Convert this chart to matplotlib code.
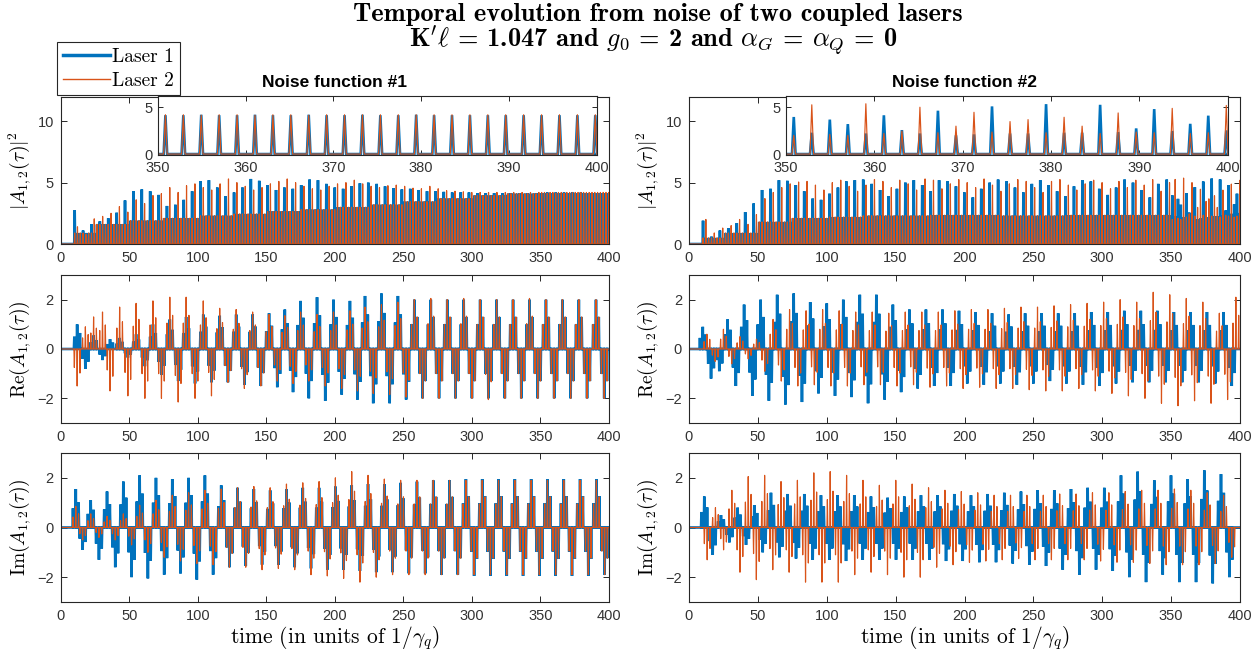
import numpy as np
import matplotlib
matplotlib.use("Agg")
import matplotlib.pyplot as plt
from matplotlib.lines import Line2D

plt.rcParams["mathtext.fontset"] = "cm"
plt.rcParams["font.family"] = ["Liberation Sans", "DejaVu Sans"]

BLUE = "#0072BD"
ORANGE = "#D95319"
AXC = "#262626"
TICKC = "#333333"

W, H = 1260, 655

# ---------------------------------------------------------------- pulse comb
PULSE_PERIOD = 2.04      # time between successive pulses
FIRST_PULSE = 10.2       # first pulse after switch-on
N_PULSES = 192
ZOOM_START = 167         # index of the first pulse inside [350, 400]

# |A|^2 : tall pulse of each 3-pulse cycle (blue on pulse 0, orange on pulse 1)
top1_blue_peak = [2.75, 1.1, 1.6, 1.85, 2.1, 2.55, 3.55, 4.3, 4.45, 4.3,
                  4.0, 3.1, 3.2, 3.6, 4.3, 5.1, 5.2, 4.6, 3.9, 4.2,
                  4.6, 5.3, 5.15, 4.8, 4.4, 4.6, 4.5, 4.8, 5.25, 5.2,
                  4.9, 4.6, 4.5, 4.7, 4.95, 5.0, 4.9, 4.7, 4.55, 4.45,
                  4.5, 4.4, 4.3, 4.3, 4.25, 4.2, 4.2, 4.2, 4.15, 4.15,
                  4.15, 4.15, 4.15, 4.15, 4.15, 4.15]
top1_orange_peak = [1.4, 0.8, 2.05, 2.25, 2.5, 3.05, 2.6, 3.6, 3.3, 3.95,
                    4.1, 4.6, 4.2, 4.75, 4.9, 4.6, 4.4, 4.9, 5.3, 5.0,
                    4.7, 4.4, 4.6, 4.9, 5.1, 5.3, 5.0, 4.7, 4.5, 4.4,
                    4.7, 4.9, 5.0, 5.2, 4.9, 4.7, 4.6, 4.75, 4.8, 4.7,
                    4.55, 4.5, 4.7, 4.5, 4.35, 4.3, 4.25, 4.2, 4.2, 4.2,
                    4.2, 4.2, 4.2, 4.2, 4.2, 4.2]
# level of the remaining pulses, one value per 25 time units
top1_floor = [0.9, 1.6, 1.9, 2.1, 2.3, 2.45, 2.65, 2.8, 3.0, 3.2, 3.45, 3.7, 3.95, 4.1]

top2_blue_peak = [1.9, 0.6, 1.1, 1.3, 1.7, 2.6, 3.3, 4.4, 4.5, 5.2,
                  5.15, 4.8, 4.3, 3.7, 3.6, 4.1, 4.6, 5.1, 5.2, 5.25,
                  4.9, 4.4, 3.9, 4.5, 5.0, 5.2, 4.8, 4.3, 5.2, 5.1,
                  4.7, 4.2, 3.8, 4.5, 5.0, 5.25, 5.1, 4.6, 4.2, 4.9,
                  5.2, 4.8, 4.3, 3.9, 4.7, 5.2, 5.1, 4.5, 4.0, 4.6,
                  5.25, 5.0, 4.4, 3.8, 4.9, 5.25]
top2_orange_peak = [2.0, 0.9, 1.3, 1.5, 2.0, 1.6, 2.4, 3.7, 4.2, 4.6,
                    4.9, 5.05, 5.1, 4.8, 4.4, 5.0, 5.2, 4.7, 4.3, 4.8,
                    5.25, 5.1, 4.6, 5.2, 4.9, 4.4, 5.3, 5.2, 4.5, 4.9,
                    5.25, 5.0, 4.6, 5.3, 4.8, 4.3, 4.9, 5.25, 5.1, 4.6,
                    4.2, 5.1, 5.25, 4.8, 4.4, 4.9, 5.2, 5.0, 4.5, 5.1,
                    4.6, 5.2, 4.8, 5.25, 4.3, 5.0]
top2_floor = [0.5, 0.9, 1.8, 2.1, 2.2, 2.3, 2.3, 2.35, 2.35, 2.3, 2.3, 2.35, 2.35, 2.35]

# individual pulse heights between t = 350 and t = 400
zoom1_blue = [4.15, 4.15, 4.2, 4.15, 4.15, 4.2, 4.15, 4.15, 4.2, 4.15,
              4.15, 4.2, 4.15, 4.15, 4.2, 4.15, 4.15, 4.15, 4.15, 4.15,
              4.15, 4.15, 4.15, 4.15, 4.15]
zoom1_orange = [4.2, 4.2, 4.15, 4.2, 4.2, 4.15, 4.2, 4.2, 4.15, 4.2,
                4.2, 4.2, 4.2, 4.2, 4.2, 4.2, 4.2, 4.2, 4.2, 4.2,
                4.2, 4.2, 4.2, 4.2, 4.2]
zoom2_blue = [3.96, 2.28, 3.68, 3.2, 2.2, 4.14, 2.56, 2.2, 4.63, 2.0,
              2.1, 5.09, 2.2, 2.2, 5.33, 2.28, 2.28, 5.26, 2.35, 2.74,
              4.8, 2.46, 3.23, 4.1, 2.53]
zoom2_orange = [2.0, 5.26, 2.1, 2.0, 5.37, 2.2, 2.46, 5.0, 2.28, 2.98,
                4.46, 2.35, 3.47, 3.68, 2.28, 3.93, 2.98, 2.2, 4.39, 2.35,
                2.28, 4.88, 2.2, 2.28, 5.19]

# ---------------------------------------------------------------- Re / Im bursts
# burst centre times and signed burst extremes
re1_t = [12.0, 18.0, 24.0, 30.5, 36.0, 43.0, 49.0, 55.0, 61.4, 67.3,
         73.5, 79.6, 85.7, 91.5, 98.0, 104.0, 110.0, 116.0, 122.0, 128.0,
         134.0, 140.0, 146.0, 152.0, 158.0, 163.5, 169.5, 175.0, 181.0, 187.0,
         193.0, 199.0, 205.0, 211.0, 216.5, 222.0, 228.0, 234.0, 240.0, 246.0,
         252.0, 258.0, 264.0, 270.0, 276.0, 282.0, 288.0, 294.0, 300.0, 306.0,
         312.0, 318.0, 324.0, 330.0, 336.0, 342.0, 348.0, 354.0, 360.0, 366.0,
         372.0, 378.0, 384.0, 390.5, 396.5]
re1_blue = [1.0, -0.8, 0.55, -0.45, 0.4, 0.45, -0.35, 0.6, -0.7, 1.0,
            -1.05, 1.2, -1.3, 1.3, -1.4, 1.4, -1.35, 1.35, -1.35, 1.4,
            -1.45, 1.4, -1.5, 1.45, -1.55, 1.6, -1.75, 1.95, -2.0, 2.1,
            -2.1, 2.0, -1.85, 1.95, -2.05, 2.15, -2.2, 2.25, -2.2, 2.15,
            -2.05, 2.0, -2.0, 2.0, -2.0, 2.0, -2.0, 2.0, -2.0, 2.0,
            -2.0, 2.0, -2.0, 2.0, -2.0, 2.0, -2.0, 2.0, -2.0, 2.0,
            -2.0, 2.0, -2.0, 2.0, -2.0]
re1_orange = [-1.5, 0.9, 1.3, 1.5, -1.7, 1.7, -1.9, 1.85, -2.0, 1.95,
              -2.0, 2.1, -2.15, 2.1, -2.0, 1.95, -1.9, 1.65, -1.35, 1.6,
              -1.6, 1.5, -1.5, 1.4, -1.3, 1.35, -1.4, 1.5, -1.3, 1.4,
              -1.5, 1.5, -1.6, 1.55, -1.7, 1.7, -1.8, 1.8, -1.85, 1.9,
              -1.95, 2.0, -2.0, 2.05, -2.0, 2.0, -2.0, 2.05, -2.0, 2.0,
              -2.05, 2.0, -2.0, 2.0, -2.0, 2.05, -2.0, 2.0, -2.0, 2.0,
              -2.0, 2.0, -2.0, 2.0, -2.0]

im1_t = [11.0, 16.0, 21.9, 27.9, 33.8, 39.8, 45.7, 51.7, 57.6, 63.6,
         69.5, 75.5, 81.4, 87.4, 93.3, 99.3, 105.2, 111.2, 117.1, 123.1,
         129.0, 135.0, 140.9, 146.9, 152.8, 158.8, 164.7, 170.7, 176.6, 182.6,
         188.5, 194.5, 200.4, 206.4, 212.3, 218.3, 224.2, 230.2, 236.1, 242.1,
         248.0, 254.0, 259.9, 265.9, 271.8, 277.8, 283.7, 289.7, 295.6, 301.6,
         307.5, 313.5, 319.4, 325.4, 331.3, 337.3, 343.2, 349.2, 355.1, 361.1,
         367.0, 373.0, 378.9, 384.9, 390.8, 396.8]
im1_blue = [1.55, -0.9, 1.1, -1.3, 1.45, -1.6, 1.85, -2.0, 2.1, -2.05,
            2.0, -1.9, 1.95, -1.85, 2.0, -2.1, 2.1, -1.9, 1.7, -1.6,
            1.6, -1.55, 1.55, -1.5, 1.5, -1.5, 1.55, -1.6, 1.6, -1.65,
            1.6, -1.7, 1.65, -1.7, 1.7, -1.75, 1.75, -1.8, 1.75, -1.8,
            1.8, -1.85, 1.85, -1.85, 1.9, -1.9, 1.9, -1.9, 1.95, -1.95,
            1.95, -1.95, 1.95, -1.95, 1.95, -1.95, 1.95, -1.95, 1.95, -1.95,
            1.95, -1.95, 1.95, -1.95, 1.95, -1.9]
im1_orange = [0.85, -0.5, 0.55, -0.4, 0.45, -0.5, 0.55, -0.7, 0.9, -1.0,
              1.1, -1.2, 1.3, -1.35, 1.4, -1.45, 1.5, -1.5, 1.55, -1.6,
              1.6, -1.6, 1.65, -1.7, 1.6, -1.65, 1.75, -1.7, 1.8, -1.9,
              1.85, -1.95, 2.0, -2.05, 2.25, -2.2, 2.1, -2.0, 1.95, -1.9,
              1.9, -1.9, 1.9, -1.9, 1.9, -1.9, 1.9, -1.9, 1.9, -1.9,
              1.9, -1.9, 1.9, -1.9, 1.9, -1.9, 1.9, -1.9, 1.9, -1.9,
              1.9, -1.9, 1.9, -1.9, 1.9, -1.9]

re2_blue_t = [10, 16, 22, 28, 34, 40, 46, 52, 58, 64,
              70, 76, 82, 88, 94, 100, 106, 112, 118, 124,
              130, 136, 142, 148, 154, 160, 166, 172, 178, 184,
              190, 196, 202, 208, 214, 220, 226, 232, 238, 244,
              250, 256, 262, 268, 274, 280, 286, 292, 298, 304,
              310, 316, 322, 328, 334, 340, 346, 352, 358, 364,
              370, 376, 382, 388, 394]
re2_blue = [0.9, -1.2, -0.9, 1.2, -1.5, 1.8, -1.9, 2.0, -2.1, 2.2,
            -2.25, 2.25, -2.15, 1.9, -1.8, 1.85, -1.9, 2.0, -1.95, 2.2,
            -2.2, 2.2, -2.05, 1.8, -1.75, 1.6, -1.6, 1.6, -1.5, 1.6,
            -1.5, 1.55, -1.4, 1.5, -1.45, 1.45, -1.4, 1.4, -1.45, 1.45,
            -1.4, 1.45, -1.3, 1.45, -1.4, 1.45, -1.45, 1.5, -1.5, 1.5,
            -1.4, 1.55, -1.35, 1.55, -1.35, 1.55, -1.35, 1.5, -1.35, 1.5,
            -1.35, 1.5, -1.4, 1.5, -1.5]
re2_orange_t = [13, 19, 25, 31, 37, 43, 49, 55, 61, 67,
                73, 79, 85, 91, 97, 103, 109, 115, 121, 127,
                133, 139, 145, 151, 157, 163, 169, 175, 181, 187,
                193, 199, 205, 211, 217, 223, 229, 235, 241, 247,
                253, 259, 265, 271, 277, 283, 289, 295, 301, 307,
                313, 319, 325, 331, 337, 343, 349, 355, 361, 367,
                373, 379, 385, 391, 397]
re2_orange = [0.6, -0.5, 0.8, -0.6, 0.5, -0.4, 0.4, -0.9, 1.2, -1.3,
              1.6, -1.5, 1.55, -1.45, 1.6, -1.5, 1.55, -1.5, 1.5, -1.45,
              1.5, -1.45, 1.45, -1.5, 1.5, -1.45, 1.5, -1.55, 1.5, -1.5,
              1.55, -1.6, 1.6, -1.55, 1.6, -1.6, 1.65, -1.6, 1.7, -1.65,
              1.7, -1.7, 1.75, -1.7, 1.8, -1.6, 1.85, -1.7, 1.9, -1.8,
              2.0, -1.9, 1.9, -2.0, 2.3, -2.2, 2.2, -2.3, 2.05, -2.1,
              1.9, -2.2, 1.45, -2.05, 2.1]

im2_blue_t = [11.1, 17.2, 23.2, 29.3, 35.3, 41.4, 47.4, 53.5, 59.5, 65.6,
              71.6, 77.7, 83.7, 89.8, 95.8, 101.9, 107.9, 114.0, 120.0, 126.1,
              132.1, 138.2, 144.2, 150.3, 156.3, 162.4, 168.4, 174.5, 180.5, 186.6,
              192.6, 198.7, 204.7, 210.8, 216.8, 222.9, 228.9, 235.0, 241.0, 247.1,
              253.1, 259.2, 265.2, 271.3, 277.3, 283.4, 289.4, 295.5, 301.5, 307.6,
              313.6, 319.7, 325.7, 331.8, 337.8, 343.9, 349.9, 356.0, 362.0, 368.1,
              374.1, 380.2, 386.2, 392.3]
im2_blue = [1.25, -1.1, 0.5, -0.6, 0.8, -0.7, 0.9, -1.0, 1.4, -1.2,
            1.35, -1.25, 1.35, -1.3, 1.3, -1.3, 1.3, -1.35, 1.3, -1.3,
            1.25, -1.3, 1.2, -1.3, 1.25, -1.3, 1.3, -1.3, 1.3, -1.35,
            1.35, -1.35, 1.3, -1.4, 1.35, -1.4, 1.4, -1.45, 1.45, -1.5,
            1.5, -1.55, 1.5, -1.7, 1.55, -1.9, 1.6, -1.7, 1.6, -1.75,
            2.1, -2.0, 2.25, -2.2, 1.9, -1.9, 2.1, -2.2, 1.95, -2.2,
            2.3, -2.25, 2.15, -2.0]
im2_orange_t = [13.2, 19.2, 25.1, 31.1, 37.0, 43.0, 48.9, 54.9, 60.8, 66.8,
                72.7, 78.7, 84.6, 90.6, 96.5, 102.5, 108.4, 114.4, 120.3, 126.3,
                132.2, 138.2, 144.1, 150.1, 156.0, 162.0, 167.9, 173.9, 179.8, 185.8,
                191.7, 197.7, 203.6, 209.6, 215.5, 221.5, 227.4, 233.4, 239.3, 245.3,
                251.2, 257.2, 263.1, 269.1, 275.0, 281.0, 286.9, 292.9, 298.8, 304.8,
                310.7, 316.7, 322.6, 328.6, 334.5, 340.5, 346.4, 352.4, 358.3, 364.3,
                370.2, 376.2, 382.1, 388.1, 394.0]
im2_orange = [-1.3, 0.8, -0.9, 1.5, -1.8, 2.05, -2.1, 2.1, -1.7, 1.85,
              -1.8, 1.9, -2.2, 2.2, -2.2, 2.25, -2.2, 2.1, -1.9, 1.9,
              -1.8, 1.7, -1.9, 1.9, -2.0, 1.75, -2.0, 1.6, -1.6, 1.5,
              -1.5, 1.45, -1.4, 1.4, -1.35, 1.3, -1.3, 1.3, -1.25, 1.3,
              -1.3, 1.3, -1.3, 1.35, -1.3, 1.35, -1.3, 1.4, -1.35, 1.4,
              -1.4, 1.45, -1.4, 1.5, -1.45, 1.5, -1.5, 1.55, -1.5, 1.5,
              -1.5, 1.4, -1.45, 1.3, -1.2]

# relative heights of the three pulses that make up one burst
BURST_SHAPE = (0.5, 1.0, 0.65)
PULSE_HALF_WIDTH = 0.32


def comb_heights(peak_blue, peak_orange, floor, zoom_blue, zoom_orange):
    n = np.arange(N_PULSES)
    tn = FIRST_PULSE + PULSE_PERIOD * n
    fl = np.asarray(floor)[np.minimum((tn // 25).astype(int), len(floor) - 1)]
    cyc = np.minimum(n // 3, len(peak_blue) - 1)
    hb = np.where(n % 3 == 0, np.asarray(peak_blue)[cyc], fl)
    ho = np.where(n % 3 == 1, np.asarray(peak_orange)[cyc], fl)
    hb[ZOOM_START:] = zoom_blue
    ho[ZOOM_START:] = zoom_orange
    return tn, hb, ho


def bursts(centres, amps):
    off = PULSE_PERIOD * np.array([-1.0, 0.0, 1.0])
    c = (np.asarray(centres, float)[:, None] + off[None, :]).ravel()
    h = (np.asarray(amps, float)[:, None] * np.array(BURST_SHAPE)[None, :]).ravel()
    return c, h


def pulse_line(centres, heights, w=PULSE_HALF_WIDTH):
    order = np.argsort(centres)
    c = np.asarray(centres, float)[order]
    h = np.asarray(heights, float)[order]
    xs = np.column_stack([c - w, c, c + w]).ravel()
    ys = np.column_stack([np.zeros_like(h), h, np.zeros_like(h)]).ravel()
    return np.r_[0.0, xs, 400.0], np.r_[0.0, ys, 0.0]


def add_axes_px(fig, x0, y0, x1, y1):
    return fig.add_axes([x0 / W, 1 - y1 / H, (x1 - x0) / W, (y1 - y0) / H])


def style(ax, xlim, ylim, xticks, yticks, ticklen=4.5, pad=5):
    ax.set_xlim(*xlim)
    ax.set_ylim(*ylim)
    ax.set_xticks(xticks)
    ax.set_yticks(yticks)
    ax.tick_params(direction="in", top=True, right=True, length=ticklen,
                   width=0.7, colors=AXC, labelcolor=TICKC, labelsize=10.5, pad=pad)
    for s in ax.spines.values():
        s.set_color(AXC)
        s.set_linewidth(0.8)


def draw(ax, xb, yb, xo, yo):
    ax.plot(xb, yb, color=BLUE, lw=1.9, solid_joinstyle="miter")
    ax.plot(xo, yo, color=ORANGE, lw=0.85)


fig = plt.figure(figsize=(W / 100, H / 100), dpi=100)

cols = [(60.7, 609.0), (689.0, 1240.0)]
rows = [(96.7, 244.0), (275.0, 423.0), (453.0, 602.0)]
insets = [(157.7, 596.7), (786.0, 1227.7)]

top_data = [
    comb_heights(top1_blue_peak, top1_orange_peak, top1_floor, zoom1_blue, zoom1_orange),
    comb_heights(top2_blue_peak, top2_orange_peak, top2_floor, zoom2_blue, zoom2_orange),
]
re_data = [((re1_t, re1_blue), (re1_t, re1_orange)),
           ((re2_blue_t, re2_blue), (re2_orange_t, re2_orange))]
im_data = [((im1_t, im1_blue), (im1_t, im1_orange)),
           ((im2_blue_t, im2_blue), (im2_orange_t, im2_orange))]

LABEL_X = -0.05
xt = np.arange(0, 401, 50)
for k, (x0, x1) in enumerate(cols):
    # |A|^2
    ax = add_axes_px(fig, x0, rows[0][0], x1, rows[0][1])
    tn, hb, ho = top_data[k]
    xb, yb = pulse_line(tn, hb)
    xo, yo = pulse_line(tn, ho)
    draw(ax, xb, yb, xo, yo)
    style(ax, (0, 400), (0, 12), xt, [0, 5, 10])
    ax.set_ylabel(r"$|A_{1,2}(\tau)|^2$", fontsize=14)
    ax.yaxis.set_label_coords(LABEL_X, 0.5)
    ax.set_title(f"Noise function #{k + 1}", fontsize=12.5, fontweight="bold",
                 pad=7, color="black")

    ins = add_axes_px(fig, insets[k][0], 96.0, insets[k][1], 155.0)
    ins.set_facecolor("white")
    xbi, ybi = pulse_line(tn, hb, w=0.2)
    xoi, yoi = pulse_line(tn, ho, w=0.2)
    draw(ins, xbi, ybi, xoi, yoi)
    style(ins, (350, 400), (-0.1, 6.2), np.arange(350, 401, 10), [0, 5],
          ticklen=3.5, pad=4)

    # Re
    ax = add_axes_px(fig, x0, rows[1][0], x1, rows[1][1])
    (tb, ab), (to, ao) = re_data[k]
    xb, yb = pulse_line(*bursts(tb, ab))
    xo, yo = pulse_line(*bursts(to, ao))
    draw(ax, xb, yb, xo, yo)
    style(ax, (0, 400), (-3, 3), xt, [-2, 0, 2])
    ax.set_ylabel(r"$\mathrm{Re}(A_{1,2}(\tau))$", fontsize=14)
    ax.yaxis.set_label_coords(LABEL_X, 0.5)

    # Im
    ax = add_axes_px(fig, x0, rows[2][0], x1, rows[2][1])
    (tb, ab), (to, ao) = im_data[k]
    xb, yb = pulse_line(*bursts(tb, ab))
    xo, yo = pulse_line(*bursts(to, ao))
    draw(ax, xb, yb, xo, yo)
    style(ax, (0, 400), (-3, 3), xt, [-2, 0, 2])
    ax.set_ylabel(r"$\mathrm{Im}(A_{1,2}(\tau))$", fontsize=14)
    ax.yaxis.set_label_coords(LABEL_X, 0.5)
    ax.set_xlabel(r"time (in units of $1/\gamma_q$)", fontsize=15.5,
                  family="cmr10", labelpad=1)

fig.text(658 / W, 1 - 14 / H,
         "Temporal evolution from noise of two coupled lasers",
         ha="center", va="center", fontsize=19, family="cmb10")
fig.text(653 / W, 1 - 41 / H,
         r"K$'\ell$ = 1.047 and $g_0$ = 2 and $\alpha_G$ = $\alpha_Q$ = 0",
         ha="center", va="center", fontsize=19, family="cmb10")

handles = [Line2D([], [], color=BLUE, lw=2.5), Line2D([], [], color=ORANGE, lw=1.0)]
leg = fig.legend(handles, ["Laser 1", "Laser 2"],
                 loc="upper left", bbox_to_anchor=(57 / W, 1 - 42 / H),
                 frameon=True, fancybox=False, edgecolor=AXC, framealpha=1,
                 prop={"family": "cmr10", "size": 14}, borderpad=0.3,
                 handlelength=2.4, handletextpad=0.15, labelspacing=0.3,
                 borderaxespad=0)
leg.get_frame().set_linewidth(0.8)

fig.savefig("out.png", dpi=100)
